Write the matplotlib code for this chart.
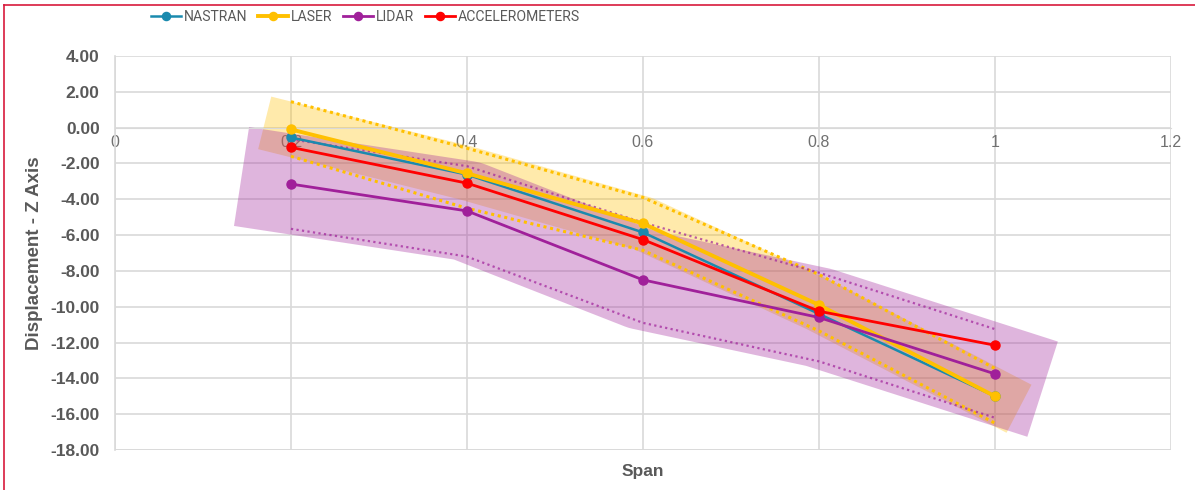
import matplotlib
matplotlib.use("Agg")
import matplotlib.pyplot as plt
from matplotlib.lines import Line2D

# Displacement along the span
span = [0.2, 0.4, 0.6, 0.8, 1.0]
nastran = [-0.55, -2.62, -5.85, -10.4, -15.0]
laser = [-0.1, -2.55, -5.35, -9.9, -15.0]
lidar = [-3.15, -4.65, -8.5, -10.6, -13.75]
accel = [-1.1, -3.1, -6.25, -10.25, -12.15]

# dotted uncertainty bounds
laser_upper = [1.45, -1.15, -3.9, -8.2, -13.45]
laser_lower = [-1.6, -4.5, -6.85, -11.35, -16.5]
lidar_upper = [-0.65, -2.15, -5.3, -8.1, -11.25]
lidar_lower = [-5.65, -7.2, -10.9, -13.05, -16.2]

x_ticks = [0, 0.2, 0.4, 0.6, 0.8, 1.0, 1.2]
x_tick_labels = ["0", "0.2", "0.4", "0.6", "0.8", "1", "1.2"]
y_ticks = list(range(-18, 5, 2))

c_nastran = "#1A8AAE"
c_laser = "#FFC000"
c_lidar = "#A0209A"
c_accel = "#FF0000"
grey = "#595959"
grid = "#D9D9D9"

plt.rcParams["font.family"] = ["Liberation Sans", "DejaVu Sans"]

fig = plt.figure(figsize=(11.95, 4.9), dpi=100)
ax = fig.add_axes([0.0962, 0.0816, 0.8837, 0.8041])

# wide translucent bands (thick lines with square caps)
ax.plot(span, laser, color=c_laser, alpha=0.33, lw=39,
        solid_capstyle="projecting", solid_joinstyle="round", zorder=2)
ax.plot(span, lidar, color=c_lidar, alpha=0.33, lw=72,
        solid_capstyle="projecting", solid_joinstyle="round", zorder=2)

# dotted bounds
ax.plot(span, laser_upper, color=c_laser, ls=(0, (1, 1.2)), lw=2.2, zorder=3)
ax.plot(span, laser_lower, color=c_laser, ls=(0, (1, 1.2)), lw=2.2, zorder=3)
ax.plot(span, lidar_upper, color=c_lidar, ls=(0, (1, 1.5)), lw=1.6, alpha=0.7, zorder=3)
ax.plot(span, lidar_lower, color=c_lidar, ls=(0, (1, 1.5)), lw=1.6, alpha=0.7, zorder=3)

# main series
ax.plot(span, nastran, color=c_nastran, lw=1.8, marker="o", ms=6.5, label="NASTRAN", zorder=4)
ax.plot(span, laser, color=c_laser, lw=2.8, marker="o", ms=6.5, label="LASER", zorder=5)
ax.plot(span, lidar, color=c_lidar, lw=2.0, marker="o", ms=6.5, label="LIDAR", zorder=5)
ax.plot(span, accel, color=c_accel, lw=2.0, marker="o", ms=6.5, label="ACCELEROMETERS", zorder=6)

ax.set_xlim(0, 1.2)
ax.set_ylim(-18, 4)
ax.set_xticks(x_ticks)
ax.set_xticklabels(x_tick_labels)
ax.set_yticks(y_ticks)
ax.set_yticklabels([f"{v:.2f}" for v in y_ticks])

ax.grid(True, color=grid, lw=1.2, zorder=0)
ax.set_axisbelow(True)

# x axis crosses at y = 0
ax.spines["bottom"].set_position(("data", 0))
ax.spines["bottom"].set_color(grid)
ax.spines["left"].set_color(grid)
ax.spines["left"].set_linewidth(1.2)
ax.spines["top"].set_visible(False)
ax.spines["right"].set_visible(False)
ax.axhline(-18, color=grid, lw=1.8, zorder=1)

ax.tick_params(axis="x", length=0, pad=5, labelsize=11.5, labelcolor="#707070")
ax.tick_params(axis="y", length=0, pad=11, labelsize=12.5, labelcolor=grey)
for lab in ax.get_yticklabels():
    lab.set_fontweight("bold")

ax.set_xlabel("Span", fontsize=12.5, fontweight="bold", color=grey)
ax.xaxis.set_label_coords(0.5, -0.035)
ax.set_ylabel("Displacement - Z Axis", fontsize=13.5, fontweight="bold", color=grey)
ax.yaxis.set_label_coords(-0.068, 0.5)

fig.legend(loc="center left", bbox_to_anchor=(0.116, 0.966), ncol=4,
           frameon=False, labelcolor=grey, handlelength=2.1,
           handletextpad=0.2, columnspacing=0.8, markerscale=0.9,
           prop={"family": ["Roboto", "DejaVu Sans"], "size": 10.1})

# thin red frame at the top and left edges
fig.add_artist(Line2D([0.0034, 1], [0.99, 0.99], transform=fig.transFigure,
                      color="#D81A3C", lw=1.2))
fig.add_artist(Line2D([0.0034, 0.0034], [0, 0.99], transform=fig.transFigure,
                      color="#D81A3C", lw=1.2))

fig.savefig("out.png", dpi=100)
